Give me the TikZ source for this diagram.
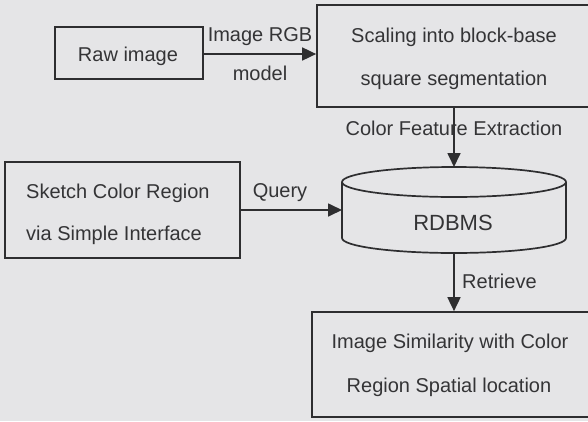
\documentclass[tikz,border=0pt]{standalone}
\usepackage{fontspec}
\setmainfont{Liberation Sans}
\usetikzlibrary{arrows.meta}
\definecolor{paper}{RGB}{229,229,231}
\definecolor{ink}{RGB}{46,46,48}
\definecolor{textink}{RGB}{52,52,54}
\tikzset{
  box/.style={draw=ink, line width=1.7pt, rectangle, inner sep=0pt},
  lbl/.style={text=textink, inner sep=0pt, font=\fontsize{20}{24}\selectfont},
  flow/.style={draw=ink, line width=1.7pt, -{Triangle[length=14pt,width=13pt]}},
}
\begin{document}
\begin{tikzpicture}[x=1pt,y=-1pt]
  % page and background
  \fill[paper] (0,0) rectangle (588,421);
  \useasboundingbox (0,0) rectangle (588,421);

  % boxes
  \node[box, minimum width=148pt, minimum height=52pt] (raw) at (129,53) {};
  \node[lbl] (rawtxt) at (128,56) {Raw image};

  \node[box, minimum width=283pt, minimum height=102pt] (scale) at (458.5,56) {};
  \node[lbl] (scale1) at (454,37) {Scaling into block-base};
  \node[lbl] (scale2) at (454,80) {square segmentation};

  \node[box, minimum width=235pt, minimum height=96pt] (sketch) at (122.5,210) {};
  \node[lbl, anchor=west] (sketch1) at (26,193) {Sketch Color Region};
  \node[lbl, anchor=west] (sketch2) at (26,235) {via Simple Interface};

  \node[box, minimum width=278pt, minimum height=105pt] (result) at (451,364.5) {};
  \node[lbl] (result1) at (450,343) {Image Similarity with Color};
  \node[lbl] (result2) at (449,387) {Region Spatial location};

  % database cylinder
  \draw[ink, line width=1.7pt, fill=paper]
    (342,182) -- (342,238) arc[start angle=180, end angle=0, x radius=112, y radius=15]
    -- (566,182);
  \draw[ink, line width=1.7pt] (454,182) ellipse[x radius=112, y radius=15];
  \coordinate (dbtop) at (454,167);
  \coordinate (dbleft) at (342,210);
  \coordinate (dbbottom) at (454,253);
  \node[lbl, font=\fontsize{22}{26}\selectfont] (db) at (453,223) {RDBMS};

  % connectors
  \draw[flow] (raw.east |- 0,54) -- (scale.west |- 0,54);
  \node[lbl] (rgb) at (260,37) {Image RGB};
  \node[lbl] (model) at (260,73) {model};

  \draw[flow] (scale.south -| dbtop) -- (dbtop);
  \node[lbl] (extract) at (454,128) {Color Feature Extraction};

  \draw[flow] (sketch.east |- dbleft) -- (dbleft);
  \node[lbl] (query) at (280,193) {Query};

  \draw[flow] (dbbottom) -- (result.north -| dbbottom);
  \node[lbl, anchor=west] (retrieve) at (462,281) {Retrieve};
\end{tikzpicture}
\end{document}
